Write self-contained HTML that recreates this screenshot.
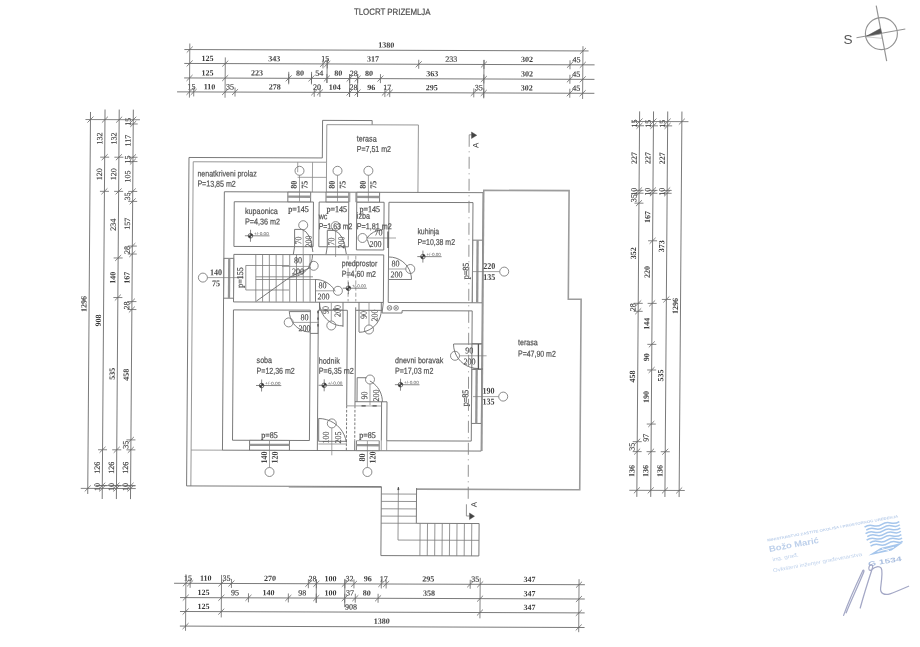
<!DOCTYPE html>
<html><head><meta charset="utf-8"><title>Tlocrt prizemlja</title>
<style>
html,body{margin:0;padding:0;background:#fff;}
body{width:920px;height:647px;overflow:hidden;position:relative;}
svg{display:block;position:absolute;left:0;top:0;filter:blur(0.62px);}
.l{stroke:#6b6b6b;stroke-width:0.9;fill:none;}
.lt{stroke:#8a8a8a;stroke-width:0.8;fill:none;}
.st{stroke:#7a7a7a;stroke-width:0.8;fill:none;}
.w{stroke:#8c8c8c;stroke-width:0.9;fill:none;}
.wb{stroke:#959595;stroke-width:2.3;fill:none;}
.bi{stroke:#8c8c8c;stroke-width:0.9;fill:none;}
.rp{font-family:"Liberation Serif",serif;font-size:8.9px;fill:#4c4c4c;stroke:#4c4c4c;stroke-width:0.25px;}
.rb{font-family:"Liberation Serif",serif;font-size:8.9px;font-weight:bold;fill:#444;}
.tr{stroke:#9c9c9c;stroke-width:1.6;fill:none;}
.tr2{stroke:#979797;stroke-width:1.5;fill:none;}
.c{stroke:#6e6e6e;stroke-width:0.8;fill:none;}
.ld{stroke:#7c7c7c;stroke-width:0.7;fill:none;}
.d{stroke:#6c6c6c;stroke-width:0.9;fill:none;}
.tk{stroke:#666;stroke-width:0.8;fill:none;}
.tk2{stroke:#555;stroke-width:1.3;fill:none;}
.sec{stroke:#878787;stroke-width:0.9;fill:none;}
.ar{fill:#444;stroke:#444;stroke-width:0.4;}
.lv{stroke:#555;stroke-width:0.7;fill:none;}
.lvc{stroke:#444;stroke-width:0.7;fill:none;}
.lvf{fill:#333;stroke:none;}
.lvt{font-family:"Liberation Sans",sans-serif;font-size:4.2px;fill:#555;}
.dt{font-family:"Liberation Serif",serif;font-weight:bold;font-size:8px;fill:#3a3a3a;text-anchor:middle;}
.dl{font-family:"Liberation Serif",serif;font-weight:normal;font-size:8px;fill:#454545;stroke:#454545;stroke-width:0.18px;text-anchor:middle;}
.rn{font-family:"Liberation Serif",serif;font-size:8.9px;fill:#4e4e4e;stroke:#4e4e4e;stroke-width:0.15px;}
.rt{font-family:"Liberation Sans",sans-serif;font-size:8.6px;fill:#545454;stroke:#545454;stroke-width:0.22px;}
.ti{font-family:"Liberation Sans",sans-serif;font-size:9px;fill:#4c4c4c;stroke:#4c4c4c;stroke-width:0.2px;}
.sa{font-family:"Liberation Sans",sans-serif;font-size:8px;fill:#444;}
.cp{stroke:#939393;stroke-width:1.15;fill:none;}
.cpf{fill:#555;stroke:#555;stroke-width:0.5;}
.cp2{fill:none;stroke:#aaa;stroke-width:0.6;}
.cs{font-family:"Liberation Sans",sans-serif;font-size:13.6px;fill:#555;}
.stp text{font-family:"Liberation Sans",sans-serif;fill:#bdd0eb;}
.s1{font-size:3.6px;font-weight:bold;}
.s2{font-size:8.4px;font-weight:bold;}
.s3{font-size:5.2px;}
.s4{font-size:6.6px;font-weight:bold;fill:#aabfe0 !important;}
.lg{stroke:#a6c6ec;stroke-width:1.5;fill:none;}
.lgf{fill:#a6c6ec;stroke:none;}
.lgw{stroke:#fff;stroke-width:0.9;fill:none;}
.sg{stroke:#a4a8c6;stroke-width:1.25;fill:none;stroke-linecap:round;}
</style></head>
<body>
<svg width="920" height="647" viewBox="0 0 920 647">
<g transform="matrix(1 0.0035 -0.0073 1 2.34 -1.35)">
<text class="ti" x="390" y="14.9" text-anchor="middle" textLength="76.6" lengthAdjust="spacingAndGlyphs">TLOCRT PRIZEMLJA</text>
<line class="d" x1="182.4" y1="50.25" x2="586.6" y2="50.25"/>
<line class="tk" x1="184.8" y1="53.25" x2="190.8" y2="47.25"/>
<line class="tk" x1="577.96" y1="53.25" x2="583.96" y2="47.25"/>
<text class="dt" x="384.38" y="47.65">1380</text>
<line class="d" x1="182.4" y1="64.15" x2="592.7" y2="64.15"/>
<line class="tk" x1="184.8" y1="67.15" x2="190.8" y2="61.15"/>
<line class="tk" x1="220.41" y1="67.15" x2="226.41" y2="61.15"/>
<line class="tk" x1="321.13" y1="59.65" x2="321.13" y2="68.65"/>
<line class="tk" x1="318.13" y1="67.15" x2="324.13" y2="61.15"/>
<line class="tk" x1="325.41" y1="59.65" x2="325.41" y2="68.65"/>
<line class="tk" x1="322.41" y1="67.15" x2="328.41" y2="61.15"/>
<line class="tk" x1="416.86" y1="59.65" x2="416.86" y2="68.65"/>
<line class="tk" x1="413.86" y1="67.15" x2="419.86" y2="61.15"/>
<line class="tk" x1="482.1" y1="59.65" x2="482.1" y2="68.65"/>
<line class="tk" x1="479.1" y1="67.15" x2="485.1" y2="61.15"/>
<line class="tk" x1="568.14" y1="59.65" x2="568.14" y2="68.65"/>
<line class="tk" x1="565.14" y1="67.15" x2="571.14" y2="61.15"/>
<line class="tk" x1="577.96" y1="67.15" x2="583.96" y2="61.15"/>
<text class="dt" x="205.61" y="61.55">125</text>
<text class="dt" x="272.27" y="61.55">343</text>
<text class="dl" x="323.27" y="61.55">15</text>
<text class="dt" x="371.13" y="61.55">317</text>
<text class="dl" x="449.48" y="61.55">233</text>
<text class="dt" x="525.12" y="61.55">302</text>
<text class="dl" x="574.55" y="61.55">45</text>
<line class="d" x1="182.4" y1="78.65" x2="592.7" y2="78.65"/>
<line class="tk" x1="184.8" y1="81.65" x2="190.8" y2="75.65"/>
<line class="tk" x1="220.41" y1="81.65" x2="226.41" y2="75.65"/>
<line class="tk" x1="286.95" y1="74.15" x2="286.95" y2="83.15"/>
<line class="tk" x1="283.95" y1="81.65" x2="289.95" y2="75.65"/>
<line class="tk" x1="309.74" y1="74.15" x2="309.74" y2="83.15"/>
<line class="tk" x1="306.74" y1="81.65" x2="312.74" y2="75.65"/>
<line class="tk" x1="325.12" y1="74.15" x2="325.12" y2="83.15"/>
<line class="tk" x1="322.12" y1="81.65" x2="328.12" y2="75.65"/>
<line class="tk" x1="347.91" y1="74.15" x2="347.91" y2="83.15"/>
<line class="tk" x1="344.91" y1="81.65" x2="350.91" y2="75.65"/>
<line class="tk" x1="355.89" y1="74.15" x2="355.89" y2="83.15"/>
<line class="tk" x1="352.89" y1="81.65" x2="358.89" y2="75.65"/>
<line class="tk" x1="378.68" y1="74.15" x2="378.68" y2="83.15"/>
<line class="tk" x1="375.68" y1="81.65" x2="381.68" y2="75.65"/>
<line class="tk" x1="482.1" y1="74.15" x2="482.1" y2="83.15"/>
<line class="tk" x1="479.1" y1="81.65" x2="485.1" y2="75.65"/>
<line class="tk" x1="568.14" y1="74.15" x2="568.14" y2="83.15"/>
<line class="tk" x1="565.14" y1="81.65" x2="571.14" y2="75.65"/>
<line class="tk" x1="577.96" y1="81.65" x2="583.96" y2="75.65"/>
<text class="dt" x="205.61" y="76.05">125</text>
<text class="dt" x="255.18" y="76.05">223</text>
<text class="dt" x="298.34" y="76.05">80</text>
<text class="dl" x="317.43" y="76.05">54</text>
<text class="dt" x="336.52" y="76.05">80</text>
<text class="dl" x="351.9" y="76.05">28</text>
<text class="dt" x="367.29" y="76.05">80</text>
<text class="dt" x="430.39" y="76.05">363</text>
<text class="dt" x="525.12" y="76.05">302</text>
<text class="dl" x="574.55" y="76.05">45</text>
<line class="d" x1="175.4" y1="92.6" x2="592.7" y2="92.6"/>
<line class="tk" x1="184.8" y1="95.6" x2="190.8" y2="89.6"/>
<line class="tk" x1="192.07" y1="88.1" x2="192.07" y2="97.1"/>
<line class="tk" x1="189.07" y1="95.6" x2="195.07" y2="89.6"/>
<line class="tk" x1="220.41" y1="95.6" x2="226.41" y2="89.6"/>
<line class="tk" x1="233.38" y1="88.1" x2="233.38" y2="97.1"/>
<line class="tk" x1="230.38" y1="95.6" x2="236.38" y2="89.6"/>
<line class="tk" x1="312.59" y1="88.1" x2="312.59" y2="97.1"/>
<line class="tk" x1="309.59" y1="95.6" x2="315.59" y2="89.6"/>
<line class="tk" x1="318.28" y1="88.1" x2="318.28" y2="97.1"/>
<line class="tk" x1="315.28" y1="95.6" x2="321.28" y2="89.6"/>
<line class="tk" x1="347.91" y1="88.1" x2="347.91" y2="97.1"/>
<line class="tk" x1="344.91" y1="95.6" x2="350.91" y2="89.6"/>
<line class="tk" x1="355.89" y1="88.1" x2="355.89" y2="97.1"/>
<line class="tk" x1="352.89" y1="95.6" x2="358.89" y2="89.6"/>
<line class="tk" x1="383.24" y1="88.1" x2="383.24" y2="97.1"/>
<line class="tk" x1="380.24" y1="95.6" x2="386.24" y2="89.6"/>
<line class="tk" x1="388.08" y1="88.1" x2="388.08" y2="97.1"/>
<line class="tk" x1="385.08" y1="95.6" x2="391.08" y2="89.6"/>
<line class="tk" x1="472.13" y1="88.1" x2="472.13" y2="97.1"/>
<line class="tk" x1="469.13" y1="95.6" x2="475.13" y2="89.6"/>
<line class="tk" x1="482.1" y1="88.1" x2="482.1" y2="97.1"/>
<line class="tk" x1="479.1" y1="95.6" x2="485.1" y2="89.6"/>
<line class="tk" x1="568.14" y1="88.1" x2="568.14" y2="97.1"/>
<line class="tk" x1="565.14" y1="95.6" x2="571.14" y2="89.6"/>
<line class="tk" x1="577.96" y1="95.6" x2="583.96" y2="89.6"/>
<text class="dl" x="189.94" y="90">15</text>
<text class="dt" x="207.74" y="90">110</text>
<text class="dl" x="228.4" y="90">35</text>
<text class="dt" x="272.99" y="90">278</text>
<text class="dl" x="315.44" y="90">20</text>
<text class="dt" x="333.1" y="90">104</text>
<text class="dl" x="351.9" y="90">28</text>
<text class="dt" x="369.57" y="90">96</text>
<text class="dl" x="385.66" y="90">17</text>
<text class="dt" x="430.11" y="90">295</text>
<text class="dl" x="477.12" y="90">35</text>
<text class="dt" x="525.12" y="90">302</text>
<text class="dl" x="574.55" y="90">45</text>
<line class="tk" x1="187.8" y1="44.2" x2="187.8" y2="98.3"/>
<line class="tk" x1="223.41" y1="58" x2="223.41" y2="98.3"/>
<line class="tk" x1="580.96" y1="45.5" x2="580.96" y2="98.3"/>
<line class="tk" x1="482.1" y1="59.5" x2="482.1" y2="98"/>
<line class="tk" x1="325.26" y1="59.65" x2="325.26" y2="83.15"/>
<line class="tk" x1="347.91" y1="74.15" x2="347.91" y2="97.1"/>
<line class="tk" x1="355.89" y1="74.15" x2="355.89" y2="97.1"/>
<line class="tk" x1="286.95" y1="72.15" x2="286.95" y2="84.65"/>
<line class="tk" x1="309.74" y1="72.15" x2="309.74" y2="84.65"/>
<line class="d" x1="176" y1="584" x2="586.8" y2="584"/>
<line class="tk" x1="184.8" y1="587" x2="190.8" y2="581"/>
<line class="tk" x1="192.07" y1="579.5" x2="192.07" y2="588.5"/>
<line class="tk" x1="189.07" y1="587" x2="195.07" y2="581"/>
<line class="tk" x1="220.41" y1="587" x2="226.41" y2="581"/>
<line class="tk" x1="233.38" y1="579.5" x2="233.38" y2="588.5"/>
<line class="tk" x1="230.38" y1="587" x2="236.38" y2="581"/>
<line class="tk" x1="310.31" y1="579.5" x2="310.31" y2="588.5"/>
<line class="tk" x1="307.31" y1="587" x2="313.31" y2="581"/>
<line class="tk" x1="318.28" y1="579.5" x2="318.28" y2="588.5"/>
<line class="tk" x1="315.28" y1="587" x2="321.28" y2="581"/>
<line class="tk" x1="346.77" y1="579.5" x2="346.77" y2="588.5"/>
<line class="tk" x1="343.77" y1="587" x2="349.77" y2="581"/>
<line class="tk" x1="355.89" y1="579.5" x2="355.89" y2="588.5"/>
<line class="tk" x1="352.89" y1="587" x2="358.89" y2="581"/>
<line class="tk" x1="383.24" y1="579.5" x2="383.24" y2="588.5"/>
<line class="tk" x1="380.24" y1="587" x2="386.24" y2="581"/>
<line class="tk" x1="388.08" y1="579.5" x2="388.08" y2="588.5"/>
<line class="tk" x1="385.08" y1="587" x2="391.08" y2="581"/>
<line class="tk" x1="472.13" y1="579.5" x2="472.13" y2="588.5"/>
<line class="tk" x1="469.13" y1="587" x2="475.13" y2="581"/>
<line class="tk" x1="479.1" y1="587" x2="485.1" y2="581"/>
<line class="tk" x1="577.96" y1="587" x2="583.96" y2="581"/>
<text class="dl" x="189.94" y="581.4">15</text>
<text class="dt" x="207.74" y="581.4">110</text>
<text class="dl" x="228.4" y="581.4">35</text>
<text class="dt" x="271.85" y="581.4">270</text>
<text class="dl" x="314.3" y="581.4">28</text>
<text class="dt" x="332.53" y="581.4">100</text>
<text class="dl" x="351.33" y="581.4">32</text>
<text class="dt" x="369.57" y="581.4">96</text>
<text class="dl" x="385.66" y="581.4">17</text>
<text class="dt" x="430.11" y="581.4">295</text>
<text class="dl" x="477.12" y="581.4">35</text>
<text class="dt" x="531.53" y="581.4">347</text>
<line class="d" x1="182.1" y1="598.3" x2="586.8" y2="598.3"/>
<line class="tk" x1="184.8" y1="601.3" x2="190.8" y2="595.3"/>
<line class="tk" x1="220.41" y1="601.3" x2="226.41" y2="595.3"/>
<line class="tk" x1="250.48" y1="593.8" x2="250.48" y2="602.8"/>
<line class="tk" x1="247.48" y1="601.3" x2="253.48" y2="595.3"/>
<line class="tk" x1="290.36" y1="593.8" x2="290.36" y2="602.8"/>
<line class="tk" x1="287.36" y1="601.3" x2="293.36" y2="595.3"/>
<line class="tk" x1="318.28" y1="593.8" x2="318.28" y2="602.8"/>
<line class="tk" x1="315.28" y1="601.3" x2="321.28" y2="595.3"/>
<line class="tk" x1="346.77" y1="593.8" x2="346.77" y2="602.8"/>
<line class="tk" x1="343.77" y1="601.3" x2="349.77" y2="595.3"/>
<line class="tk" x1="357.32" y1="593.8" x2="357.32" y2="602.8"/>
<line class="tk" x1="354.32" y1="601.3" x2="360.32" y2="595.3"/>
<line class="tk" x1="380.11" y1="593.8" x2="380.11" y2="602.8"/>
<line class="tk" x1="377.11" y1="601.3" x2="383.11" y2="595.3"/>
<line class="tk" x1="479.1" y1="601.3" x2="485.1" y2="595.3"/>
<line class="tk" x1="577.96" y1="601.3" x2="583.96" y2="595.3"/>
<text class="dt" x="205.61" y="595.7">125</text>
<text class="dl" x="236.95" y="595.7">95</text>
<text class="dt" x="270.42" y="595.7">140</text>
<text class="dl" x="304.32" y="595.7">98</text>
<text class="dt" x="332.53" y="595.7">100</text>
<text class="dl" x="352.04" y="595.7">37</text>
<text class="dt" x="368.71" y="595.7">80</text>
<text class="dt" x="431.1" y="595.7">358</text>
<text class="dt" x="531.53" y="595.7">347</text>
<line class="d" x1="182.1" y1="612.2" x2="586.8" y2="612.2"/>
<line class="tk" x1="184.8" y1="615.2" x2="190.8" y2="609.2"/>
<line class="tk" x1="220.41" y1="615.2" x2="226.41" y2="609.2"/>
<line class="tk" x1="479.1" y1="615.2" x2="485.1" y2="609.2"/>
<line class="tk" x1="577.96" y1="615.2" x2="583.96" y2="609.2"/>
<text class="dt" x="205.61" y="609.6">125</text>
<text class="dt" x="531.53" y="609.6">347</text>
<text class="dl" x="353.1" y="609.6">908</text>
<line class="d" x1="182.1" y1="626.8" x2="586.8" y2="626.8"/>
<line class="tk" x1="184.8" y1="629.8" x2="190.8" y2="623.8"/>
<line class="tk" x1="577.96" y1="629.8" x2="583.96" y2="623.8"/>
<text class="dt" x="384" y="623.8">1380</text>
<line class="tk" x1="346.77" y1="579" x2="346.77" y2="607.3"/>
<line class="tk" x1="318.28" y1="580" x2="318.28" y2="603.3"/>
<line class="tk" x1="187.8" y1="575" x2="187.8" y2="631.5"/>
<line class="tk" x1="223.41" y1="575.5" x2="223.41" y2="618"/>
<line class="tk" x1="482.1" y1="577.5" x2="482.1" y2="618"/>
<line class="tk" x1="580.96" y1="578.5" x2="580.96" y2="631.5"/>
<line class="d" x1="89" y1="113" x2="89" y2="495"/>
<line class="tk" x1="86" y1="123.6" x2="92" y2="117.6"/>
<line class="tk" x1="86" y1="492.44" x2="92" y2="486.44"/>
<text class="dt" transform="translate(86.4 305.02) rotate(-90)">1296</text>
<line class="d" x1="103.5" y1="110.5" x2="103.5" y2="500"/>
<line class="tk" x1="100.5" y1="123.6" x2="106.5" y2="117.6"/>
<line class="tk" x1="99" y1="158.17" x2="108" y2="158.17"/>
<line class="tk" x1="100.5" y1="161.17" x2="106.5" y2="155.17"/>
<line class="tk" x1="99" y1="192.32" x2="108" y2="192.32"/>
<line class="tk" x1="100.5" y1="195.32" x2="106.5" y2="189.32"/>
<line class="tk" x1="99" y1="450.74" x2="108" y2="450.74"/>
<line class="tk" x1="100.5" y1="453.74" x2="106.5" y2="447.74"/>
<line class="tk" x1="99" y1="486.6" x2="108" y2="486.6"/>
<line class="tk" x1="100.5" y1="489.6" x2="106.5" y2="483.6"/>
<line class="tk" x1="100.5" y1="492.44" x2="106.5" y2="486.44"/>
<text class="dl" transform="translate(100.9 139.38) rotate(-90)">132</text>
<text class="dl" transform="translate(100.9 175.24) rotate(-90)">120</text>
<text class="dt" transform="translate(100.9 321.53) rotate(-90)">908</text>
<text class="dl" transform="translate(100.9 468.67) rotate(-90)">126</text>
<text class="dl" transform="translate(100.9 488.02) rotate(-90)">10</text>
<line class="d" x1="117.7" y1="110.5" x2="117.7" y2="500"/>
<line class="tk" x1="114.7" y1="123.6" x2="120.7" y2="117.6"/>
<line class="tk" x1="113.2" y1="158.17" x2="122.2" y2="158.17"/>
<line class="tk" x1="114.7" y1="161.17" x2="120.7" y2="155.17"/>
<line class="tk" x1="113.2" y1="192.32" x2="122.2" y2="192.32"/>
<line class="tk" x1="114.7" y1="195.32" x2="120.7" y2="189.32"/>
<line class="tk" x1="113.2" y1="258.92" x2="122.2" y2="258.92"/>
<line class="tk" x1="114.7" y1="261.92" x2="120.7" y2="255.92"/>
<line class="tk" x1="113.2" y1="298.48" x2="122.2" y2="298.48"/>
<line class="tk" x1="114.7" y1="301.48" x2="120.7" y2="295.48"/>
<line class="tk" x1="113.2" y1="450.74" x2="122.2" y2="450.74"/>
<line class="tk" x1="114.7" y1="453.74" x2="120.7" y2="447.74"/>
<line class="tk" x1="113.2" y1="486.6" x2="122.2" y2="486.6"/>
<line class="tk" x1="114.7" y1="489.6" x2="120.7" y2="483.6"/>
<line class="tk" x1="114.7" y1="492.44" x2="120.7" y2="486.44"/>
<text class="dl" transform="translate(115.1 139.38) rotate(-90)">132</text>
<text class="dl" transform="translate(115.1 175.24) rotate(-90)">120</text>
<text class="dl" transform="translate(115.1 225.62) rotate(-90)">234</text>
<text class="dt" transform="translate(115.1 278.7) rotate(-90)">140</text>
<text class="dt" transform="translate(115.1 374.61) rotate(-90)">535</text>
<text class="dl" transform="translate(115.1 468.67) rotate(-90)">126</text>
<text class="dl" transform="translate(115.1 488.02) rotate(-90)">10</text>
<line class="d" x1="131.8" y1="110.5" x2="131.8" y2="500"/>
<line class="tk" x1="128.8" y1="123.6" x2="134.8" y2="117.6"/>
<line class="tk" x1="127.3" y1="124.87" x2="136.3" y2="124.87"/>
<line class="tk" x1="128.8" y1="127.87" x2="134.8" y2="121.87"/>
<line class="tk" x1="127.3" y1="158.17" x2="136.3" y2="158.17"/>
<line class="tk" x1="128.8" y1="161.17" x2="134.8" y2="155.17"/>
<line class="tk" x1="127.3" y1="162.44" x2="136.3" y2="162.44"/>
<line class="tk" x1="128.8" y1="165.44" x2="134.8" y2="159.44"/>
<line class="tk" x1="127.3" y1="192.32" x2="136.3" y2="192.32"/>
<line class="tk" x1="128.8" y1="195.32" x2="134.8" y2="189.32"/>
<line class="tk" x1="127.3" y1="202.28" x2="136.3" y2="202.28"/>
<line class="tk" x1="128.8" y1="205.28" x2="134.8" y2="199.28"/>
<line class="tk" x1="127.3" y1="246.96" x2="136.3" y2="246.96"/>
<line class="tk" x1="128.8" y1="249.96" x2="134.8" y2="243.96"/>
<line class="tk" x1="127.3" y1="254.93" x2="136.3" y2="254.93"/>
<line class="tk" x1="128.8" y1="257.93" x2="134.8" y2="251.93"/>
<line class="tk" x1="127.3" y1="302.46" x2="136.3" y2="302.46"/>
<line class="tk" x1="128.8" y1="305.46" x2="134.8" y2="299.46"/>
<line class="tk" x1="127.3" y1="310.43" x2="136.3" y2="310.43"/>
<line class="tk" x1="128.8" y1="313.43" x2="134.8" y2="307.43"/>
<line class="tk" x1="127.3" y1="440.77" x2="136.3" y2="440.77"/>
<line class="tk" x1="128.8" y1="443.77" x2="134.8" y2="437.77"/>
<line class="tk" x1="127.3" y1="450.74" x2="136.3" y2="450.74"/>
<line class="tk" x1="128.8" y1="453.74" x2="134.8" y2="447.74"/>
<line class="tk" x1="127.3" y1="486.6" x2="136.3" y2="486.6"/>
<line class="tk" x1="128.8" y1="489.6" x2="134.8" y2="483.6"/>
<line class="tk" x1="128.8" y1="492.44" x2="134.8" y2="486.44"/>
<text class="dl" transform="translate(129.2 122.73) rotate(-90)">15</text>
<text class="dl" transform="translate(129.2 141.52) rotate(-90)">117</text>
<text class="dl" transform="translate(129.2 160.3) rotate(-90)">15</text>
<text class="dl" transform="translate(129.2 177.38) rotate(-90)">105</text>
<text class="dl" transform="translate(129.2 197.3) rotate(-90)">35</text>
<text class="dl" transform="translate(129.2 224.62) rotate(-90)">157</text>
<text class="dl" transform="translate(129.2 250.95) rotate(-90)">28</text>
<text class="dt" transform="translate(129.2 278.7) rotate(-90)">167</text>
<text class="dl" transform="translate(129.2 306.44) rotate(-90)">28</text>
<text class="dt" transform="translate(129.2 375.6) rotate(-90)">458</text>
<text class="dl" transform="translate(129.2 445.76) rotate(-90)">35</text>
<text class="dl" transform="translate(129.2 468.67) rotate(-90)">126</text>
<text class="dl" transform="translate(129.2 488.02) rotate(-90)">10</text>
<line class="tk" x1="84" y1="120.6" x2="138.5" y2="120.6"/>
<line class="tk" x1="82" y1="489.44" x2="137" y2="489.44"/>
<line class="tk" x1="97" y1="486.6" x2="137" y2="486.6"/>
<line class="d" x1="638.1" y1="110.5" x2="638.1" y2="496"/>
<line class="tk" x1="635.1" y1="123.6" x2="641.1" y2="117.6"/>
<line class="tk" x1="633.6" y1="124.87" x2="642.6" y2="124.87"/>
<line class="tk" x1="635.1" y1="127.87" x2="641.1" y2="121.87"/>
<line class="tk" x1="633.6" y1="189.47" x2="642.6" y2="189.47"/>
<line class="tk" x1="635.1" y1="192.47" x2="641.1" y2="186.47"/>
<line class="tk" x1="633.6" y1="192.32" x2="642.6" y2="192.32"/>
<line class="tk" x1="635.1" y1="195.32" x2="641.1" y2="189.32"/>
<line class="tk" x1="633.6" y1="202.28" x2="642.6" y2="202.28"/>
<line class="tk" x1="635.1" y1="205.28" x2="641.1" y2="199.28"/>
<line class="tk" x1="633.6" y1="302.46" x2="642.6" y2="302.46"/>
<line class="tk" x1="635.1" y1="305.46" x2="641.1" y2="299.46"/>
<line class="tk" x1="633.6" y1="310.43" x2="642.6" y2="310.43"/>
<line class="tk" x1="635.1" y1="313.43" x2="641.1" y2="307.43"/>
<line class="tk" x1="633.6" y1="440.77" x2="642.6" y2="440.77"/>
<line class="tk" x1="635.1" y1="443.77" x2="641.1" y2="437.77"/>
<line class="tk" x1="633.6" y1="450.74" x2="642.6" y2="450.74"/>
<line class="tk" x1="635.1" y1="453.74" x2="641.1" y2="447.74"/>
<line class="tk" x1="635.1" y1="492.44" x2="641.1" y2="486.44"/>
<text class="dl" transform="translate(635.5 122.73) rotate(-90)">15</text>
<text class="dt" transform="translate(635.5 157.17) rotate(-90)">227</text>
<text class="dl" transform="translate(635.5 190.9) rotate(-90)">10</text>
<text class="dl" transform="translate(635.5 197.3) rotate(-90)">35</text>
<text class="dt" transform="translate(635.5 252.37) rotate(-90)">352</text>
<text class="dl" transform="translate(635.5 306.44) rotate(-90)">28</text>
<text class="dt" transform="translate(635.5 375.6) rotate(-90)">458</text>
<text class="dl" transform="translate(635.5 445.76) rotate(-90)">35</text>
<text class="dt" transform="translate(635.5 470.09) rotate(-90)">136</text>
<line class="d" x1="652" y1="110.5" x2="652" y2="496"/>
<line class="tk" x1="649" y1="123.6" x2="655" y2="117.6"/>
<line class="tk" x1="647.5" y1="124.87" x2="656.5" y2="124.87"/>
<line class="tk" x1="649" y1="127.87" x2="655" y2="121.87"/>
<line class="tk" x1="647.5" y1="189.47" x2="656.5" y2="189.47"/>
<line class="tk" x1="649" y1="192.47" x2="655" y2="186.47"/>
<line class="tk" x1="647.5" y1="192.32" x2="656.5" y2="192.32"/>
<line class="tk" x1="649" y1="195.32" x2="655" y2="189.32"/>
<line class="tk" x1="647.5" y1="239.85" x2="656.5" y2="239.85"/>
<line class="tk" x1="649" y1="242.85" x2="655" y2="236.85"/>
<line class="tk" x1="647.5" y1="302.46" x2="656.5" y2="302.46"/>
<line class="tk" x1="649" y1="305.46" x2="655" y2="299.46"/>
<line class="tk" x1="647.5" y1="343.44" x2="656.5" y2="343.44"/>
<line class="tk" x1="649" y1="346.44" x2="655" y2="340.44"/>
<line class="tk" x1="647.5" y1="369.06" x2="656.5" y2="369.06"/>
<line class="tk" x1="649" y1="372.06" x2="655" y2="366.06"/>
<line class="tk" x1="647.5" y1="423.13" x2="656.5" y2="423.13"/>
<line class="tk" x1="649" y1="426.13" x2="655" y2="420.13"/>
<line class="tk" x1="647.5" y1="450.74" x2="656.5" y2="450.74"/>
<line class="tk" x1="649" y1="453.74" x2="655" y2="447.74"/>
<line class="tk" x1="649" y1="492.44" x2="655" y2="486.44"/>
<text class="dl" transform="translate(649.4 122.73) rotate(-90)">15</text>
<text class="dt" transform="translate(649.4 157.17) rotate(-90)">227</text>
<text class="dl" transform="translate(649.4 190.9) rotate(-90)">10</text>
<text class="dt" transform="translate(649.4 216.08) rotate(-90)">167</text>
<text class="dt" transform="translate(649.4 271.15) rotate(-90)">220</text>
<text class="dt" transform="translate(649.4 322.95) rotate(-90)">144</text>
<text class="dt" transform="translate(649.4 356.25) rotate(-90)">90</text>
<text class="dt" transform="translate(649.4 396.09) rotate(-90)">190</text>
<text class="dl" transform="translate(649.4 436.93) rotate(-90)">97</text>
<text class="dt" transform="translate(649.4 470.09) rotate(-90)">136</text>
<line class="d" x1="666.2" y1="110.5" x2="666.2" y2="496"/>
<line class="tk" x1="663.2" y1="123.6" x2="669.2" y2="117.6"/>
<line class="tk" x1="661.7" y1="124.87" x2="670.7" y2="124.87"/>
<line class="tk" x1="663.2" y1="127.87" x2="669.2" y2="121.87"/>
<line class="tk" x1="661.7" y1="189.47" x2="670.7" y2="189.47"/>
<line class="tk" x1="663.2" y1="192.47" x2="669.2" y2="186.47"/>
<line class="tk" x1="661.7" y1="192.32" x2="670.7" y2="192.32"/>
<line class="tk" x1="663.2" y1="195.32" x2="669.2" y2="189.32"/>
<line class="tk" x1="661.7" y1="298.48" x2="670.7" y2="298.48"/>
<line class="tk" x1="663.2" y1="301.48" x2="669.2" y2="295.48"/>
<line class="tk" x1="661.7" y1="450.74" x2="670.7" y2="450.74"/>
<line class="tk" x1="663.2" y1="453.74" x2="669.2" y2="447.74"/>
<line class="tk" x1="663.2" y1="492.44" x2="669.2" y2="486.44"/>
<text class="dl" transform="translate(663.6 122.73) rotate(-90)">15</text>
<text class="dt" transform="translate(663.6 157.17) rotate(-90)">227</text>
<text class="dl" transform="translate(663.6 190.9) rotate(-90)">10</text>
<text class="dt" transform="translate(663.6 245.4) rotate(-90)">373</text>
<text class="dt" transform="translate(663.6 374.61) rotate(-90)">535</text>
<text class="dt" transform="translate(663.6 470.09) rotate(-90)">136</text>
<line class="d" x1="680.4" y1="110.5" x2="680.4" y2="496"/>
<line class="tk" x1="677.4" y1="123.6" x2="683.4" y2="117.6"/>
<line class="tk" x1="677.4" y1="492.44" x2="683.4" y2="486.44"/>
<text class="dt" transform="translate(677.8 305.02) rotate(-90)">1296</text>
<line class="tk" x1="630.5" y1="120.6" x2="687" y2="120.6"/>
<line class="tk" x1="630.5" y1="489.44" x2="686" y2="489.44"/>
<path class="l" d="M187.8 486.6 L187.8 158.17 L321.13 158.17 L321.13 120.6 L370.7 120.6 L370.7 124.87"/>
<path class="bi" d="M192.07 486.6 L192.07 162.44 L325.41 162.44 L325.41 124.87 L417 124.87 L417 192.32"/>
<line class="l" x1="187.8" y1="486.6" x2="382.5" y2="486.6"/>
<line class="lt" x1="290" y1="487.5" x2="382.5" y2="487.5"/>
<line class="lt" x1="192.07" y1="450.74" x2="223.41" y2="450.74"/>
<line class="bi" x1="325.41" y1="162.44" x2="325.41" y2="192.32"/>
<line class="lt" x1="296.6" y1="162.44" x2="296.6" y2="172.5"/>
<line class="lt" x1="311.4" y1="162.44" x2="311.4" y2="192.32"/>
<line class="lt" x1="296.6" y1="177.6" x2="325.41" y2="177.6"/>
<path class="l" d="M223.41 192.32 L482.1 192.32 L482.1 450.74 L223.41 450.74 Z"/>
<path class="l" d="M233.38 202.28 L312.59 202.28 L312.59 246.96 L233.38 246.96 Z"/>
<path class="l" d="M318.28 202.28 L347.91 202.28 L347.91 246.96 L318.28 246.96 Z"/>
<path class="l" d="M355.89 202.28 L383.24 202.28 L383.24 250 L355.89 250 Z"/>
<line class="lt" x1="348.91" y1="192.32" x2="348.91" y2="202.28"/>
<line class="lt" x1="354.89" y1="192.32" x2="354.89" y2="202.28"/>
<path class="l" d="M388.08 202.28 L472.13 202.28 L472.13 302.46 L388.08 302.46 Z"/>
<path class="l" d="M233.38 254.93 L383.24 254.93 L383.24 302.46 L233.38 302.46 Z"/>
<path class="l" d="M233.38 310.43 L310.31 310.43 L310.31 440.77 L233.38 440.77 Z"/>
<path class="l" d="M318.28 450.74 L318.28 310.43 L347.3 310.43 L347.3 405.8"/>
<line class="l" x1="355.6" y1="307.43" x2="355.6" y2="405.8"/>
<line class="l" x1="347.3" y1="405.8" x2="347.3" y2="450.74" stroke-dasharray="2.6 1.6"/>
<line class="l" x1="355.6" y1="405.8" x2="355.6" y2="440.77" stroke-dasharray="2.6 1.6"/>
<line class="l" x1="355.6" y1="440.77" x2="355.6" y2="450.74"/>
<path class="l" d="M355.6 310.43 L381.8 310.43"/>
<path class="l" d="M383.2 302.46 L382 313 L402 313 L402 310.6 L472.13 310.6 L472.13 440.77 L387.6 440.77 L387.6 401.8 L355.6 401.8"/>
<line class="l" x1="382.2" y1="401.8" x2="382.2" y2="440.77"/>
<circle class="c" cx="389.4" cy="307.9" r="2.3"/>
<line class="lt" x1="387.8" y1="306.3" x2="391" y2="309.5"/>
<line class="lt" x1="387.8" y1="309.5" x2="391" y2="306.3"/>
<circle class="c" cx="396" cy="307.9" r="2.3"/>
<line class="lt" x1="394.4" y1="306.3" x2="397.6" y2="309.5"/>
<line class="lt" x1="394.4" y1="309.5" x2="397.6" y2="306.3"/>
<line class="lt" x1="347.3" y1="406" x2="382.2" y2="406"/>
<line class="l" x1="357.6" y1="377.8" x2="367" y2="377.8"/>
<line class="l" x1="357.6" y1="377.8" x2="357.6" y2="401.8"/>
<line class="lt" x1="382.2" y1="440.77" x2="382.2" y2="450.74"/>
<line class="lt" x1="387.6" y1="440.77" x2="387.6" y2="450.74"/>
<line class="l" x1="286.95" y1="192.32" x2="286.95" y2="202.28"/>
<line class="l" x1="309.74" y1="192.32" x2="309.74" y2="202.28"/>
<line class="lt" x1="286.95" y1="202.28" x2="309.74" y2="202.28"/>
<line class="lt" x1="286.95" y1="192.32" x2="309.74" y2="192.32"/>
<line class="wb" x1="286.95" y1="197.02" x2="309.74" y2="197.02"/>
<line class="l" x1="325.12" y1="192.32" x2="325.12" y2="202.28"/>
<line class="l" x1="347.91" y1="192.32" x2="347.91" y2="202.28"/>
<line class="lt" x1="325.12" y1="202.28" x2="347.91" y2="202.28"/>
<line class="lt" x1="325.12" y1="192.32" x2="347.91" y2="192.32"/>
<line class="wb" x1="325.12" y1="197.02" x2="347.91" y2="197.02"/>
<line class="l" x1="355.89" y1="192.32" x2="355.89" y2="202.28"/>
<line class="l" x1="378.68" y1="192.32" x2="378.68" y2="202.28"/>
<line class="lt" x1="355.89" y1="202.28" x2="378.68" y2="202.28"/>
<line class="lt" x1="355.89" y1="192.32" x2="378.68" y2="192.32"/>
<line class="wb" x1="355.89" y1="197.02" x2="378.68" y2="197.02"/>
<line class="l" x1="250.48" y1="440.77" x2="250.48" y2="450.74"/>
<line class="l" x1="290.36" y1="440.77" x2="290.36" y2="450.74"/>
<line class="lt" x1="250.48" y1="450.74" x2="290.36" y2="450.74"/>
<line class="lt" x1="250.48" y1="440.77" x2="290.36" y2="440.77"/>
<line class="wb" x1="250.48" y1="445.27" x2="290.36" y2="445.27"/>
<line class="l" x1="357.32" y1="440.77" x2="357.32" y2="450.74"/>
<line class="l" x1="380.11" y1="440.77" x2="380.11" y2="450.74"/>
<line class="lt" x1="357.32" y1="450.74" x2="380.11" y2="450.74"/>
<line class="lt" x1="357.32" y1="440.77" x2="380.11" y2="440.77"/>
<line class="wb" x1="357.32" y1="445.27" x2="380.11" y2="445.27"/>
<line class="l" x1="223.41" y1="258.92" x2="233.38" y2="258.92"/>
<line class="l" x1="223.41" y1="298.76" x2="233.38" y2="298.76"/>
<line class="lt" x1="223.41" y1="258.92" x2="223.41" y2="298.76"/>
<line class="lt" x1="233.38" y1="258.92" x2="233.38" y2="298.76"/>
<line class="wb" x1="228.81" y1="258.92" x2="228.81" y2="298.76"/>
<line class="l" x1="472.13" y1="239.85" x2="482.1" y2="239.85"/>
<line class="l" x1="472.13" y1="302.46" x2="482.1" y2="302.46"/>
<line class="lt" x1="472.13" y1="239.85" x2="472.13" y2="302.46"/>
<line class="lt" x1="482.1" y1="239.85" x2="482.1" y2="302.46"/>
<line class="wb" x1="477.03" y1="239.85" x2="477.03" y2="302.46"/>
<line class="l" x1="472.13" y1="369.06" x2="482.1" y2="369.06"/>
<line class="l" x1="472.13" y1="423.13" x2="482.1" y2="423.13"/>
<line class="lt" x1="472.13" y1="369.06" x2="472.13" y2="423.13"/>
<line class="lt" x1="482.1" y1="369.06" x2="482.1" y2="423.13"/>
<line class="wb" x1="477.03" y1="369.06" x2="477.03" y2="423.13"/>
<line class="l" x1="472.13" y1="343.44" x2="482.1" y2="343.44"/>
<line class="tr2" x1="482.8" y1="190" x2="482.8" y2="450.74"/>
<path class="tr" d="M482.1 190 L568.14 190 L568.14 298.6 L580.96 298.6 L580.96 489 L417.5 489"/>
<path class="l" d="M382.6 486.6 L382.6 555.6 L480.6 555.6 L480.6 523.2 L417.8 523.2 L417.8 488"/>
<line class="st" x1="382.6" y1="494" x2="417.8" y2="494"/>
<line class="st" x1="382.6" y1="501.4" x2="417.8" y2="501.4"/>
<line class="st" x1="382.6" y1="508.8" x2="417.8" y2="508.8"/>
<line class="st" x1="382.6" y1="516.1" x2="417.8" y2="516.1"/>
<line class="st" x1="382.6" y1="523.2" x2="417.8" y2="523.2"/>
<line class="st" x1="421.6" y1="523.2" x2="421.6" y2="555.6"/>
<line class="st" x1="428.98" y1="523.2" x2="428.98" y2="555.6"/>
<line class="st" x1="436.36" y1="523.2" x2="436.36" y2="555.6"/>
<line class="st" x1="443.74" y1="523.2" x2="443.74" y2="555.6"/>
<line class="st" x1="451.12" y1="523.2" x2="451.12" y2="555.6"/>
<line class="st" x1="458.5" y1="523.2" x2="458.5" y2="555.6"/>
<line class="st" x1="465.88" y1="523.2" x2="465.88" y2="555.6"/>
<line class="st" x1="473.26" y1="523.2" x2="473.26" y2="555.6"/>
<path class="st" d="M399.6 487 L399.6 540 L480.6 540"/>
<path class="ar" d="M398.8 489.6 L399.6 487 L400.4 489.6 Z"/>
<line class="st" x1="255.32" y1="255.06" x2="255.67" y2="302.26"/>
<line class="st" x1="262.1" y1="255.03" x2="262.45" y2="302.23"/>
<line class="st" x1="268.88" y1="255.01" x2="269.23" y2="302.21"/>
<line class="st" x1="275.66" y1="254.98" x2="276.01" y2="302.18"/>
<line class="st" x1="282.44" y1="254.96" x2="282.79" y2="302.16"/>
<line class="st" x1="289.22" y1="254.94" x2="289.57" y2="302.14"/>
<line class="st" x1="296" y1="254.91" x2="296.35" y2="302.11"/>
<line class="st" x1="302.78" y1="254.89" x2="303.13" y2="302.09"/>
<line class="st" x1="309.56" y1="254.87" x2="309.91" y2="302.07"/>
<path class="st" d="M288.6 265.84 L245.4 265.99 L245.58 290.49 L288.78 290.34"/>
<line class="st" x1="255.48" y1="277.26" x2="312.68" y2="277.06"/>
<line class="st" x1="255.5" y1="279.96" x2="315.7" y2="279.75"/>
<line class="l" x1="256.16" y1="301.65" x2="290.18" y2="277.13"/>
<line class="l" x1="290.18" y1="277.13" x2="310.12" y2="267.76"/>
<circle class="c" cx="298.41" cy="171.1" r="4.5"/>
<line class="ld" x1="298.44" y1="175.6" x2="298.63" y2="201.8"/>
<text class="rb" transform="translate(292.91 185.02) rotate(-90)" text-anchor="middle" y="2.94" textLength="8.01" lengthAdjust="spacingAndGlyphs">80</text>
<text class="rb" transform="translate(303.51 184.99) rotate(-90)" text-anchor="middle" y="2.94" textLength="8.01" lengthAdjust="spacingAndGlyphs">75</text>
<circle class="c" cx="336.41" cy="170.97" r="4.5"/>
<line class="ld" x1="336.44" y1="175.47" x2="336.63" y2="201.67"/>
<text class="rb" transform="translate(330.91 184.89) rotate(-90)" text-anchor="middle" y="2.94" textLength="8.01" lengthAdjust="spacingAndGlyphs">80</text>
<text class="rb" transform="translate(341.51 184.85) rotate(-90)" text-anchor="middle" y="2.94" textLength="8.01" lengthAdjust="spacingAndGlyphs">75</text>
<circle class="c" cx="367.31" cy="170.86" r="4.5"/>
<line class="ld" x1="367.34" y1="175.36" x2="367.53" y2="201.56"/>
<text class="rb" transform="translate(361.81 184.78) rotate(-90)" text-anchor="middle" y="2.94" textLength="8.01" lengthAdjust="spacingAndGlyphs">80</text>
<text class="rb" transform="translate(372.41 184.74) rotate(-90)" text-anchor="middle" y="2.94" textLength="8.01" lengthAdjust="spacingAndGlyphs">75</text>
<circle class="c" cx="270.61" cy="472.41" r="4.5"/>
<line class="ld" x1="270.38" y1="441.41" x2="270.58" y2="467.91"/>
<text class="rb" transform="translate(265.1 457.83) rotate(-90)" text-anchor="middle" y="2.94" textLength="12.02" lengthAdjust="spacingAndGlyphs">140</text>
<text class="rb" transform="translate(275.7 457.79) rotate(-90)" text-anchor="middle" y="2.94" textLength="12.02" lengthAdjust="spacingAndGlyphs">120</text>
<circle class="c" cx="368.51" cy="472.07" r="4.5"/>
<line class="ld" x1="368.28" y1="441.07" x2="368.48" y2="467.57"/>
<text class="rb" transform="translate(363 457.48) rotate(-90)" text-anchor="middle" y="2.94" textLength="8.01" lengthAdjust="spacingAndGlyphs">80</text>
<text class="rb" transform="translate(373.6 457.45) rotate(-90)" text-anchor="middle" y="2.94" textLength="12.02" lengthAdjust="spacingAndGlyphs">120</text>
<circle class="c" cx="202.59" cy="278.24" r="4.5"/>
<line class="ld" x1="207.09" y1="278.23" x2="243.19" y2="278.1"/>
<text class="rb" x="215.67" y="275.9" text-anchor="middle" textLength="12.02" lengthAdjust="spacingAndGlyphs">140</text>
<text class="rb" x="215.75" y="286.8" text-anchor="middle" textLength="8.01" lengthAdjust="spacingAndGlyphs">75</text>
<text class="rp" transform="translate(239.69 278.01) rotate(-90)" text-anchor="middle" y="2.94" textLength="20.53" lengthAdjust="spacingAndGlyphs">p=155</text>
<circle class="c" cx="503.85" cy="271.19" r="4.5"/>
<line class="ld" x1="472.65" y1="271.3" x2="499.35" y2="271.2"/>
<text class="rb" x="488.83" y="268.64" text-anchor="middle" textLength="12.02" lengthAdjust="spacingAndGlyphs">220</text>
<text class="rb" x="488.91" y="279.64" text-anchor="middle" textLength="12.02" lengthAdjust="spacingAndGlyphs">135</text>
<text class="rp" transform="translate(465.44 270.72) rotate(-90)" text-anchor="middle" y="2.94" textLength="16.52" lengthAdjust="spacingAndGlyphs">p=85</text>
<circle class="c" cx="503.76" cy="396.19" r="4.5"/>
<line class="ld" x1="473.56" y1="396.3" x2="499.26" y2="396.21"/>
<text class="rb" x="489.14" y="393.44" text-anchor="middle" textLength="12.02" lengthAdjust="spacingAndGlyphs">190</text>
<text class="rb" x="489.22" y="404.24" text-anchor="middle" textLength="12.02" lengthAdjust="spacingAndGlyphs">135</text>
<text class="rp" transform="translate(465.77 397.72) rotate(-90)" text-anchor="middle" y="2.94" textLength="16.52" lengthAdjust="spacingAndGlyphs">p=85</text>
<text class="rp" x="297.81" y="212.31" text-anchor="middle" textLength="20.53" lengthAdjust="spacingAndGlyphs">p=145</text>
<text class="rp" x="336.01" y="212.17" text-anchor="middle" textLength="20.53" lengthAdjust="spacingAndGlyphs">p=145</text>
<text class="rp" x="369.01" y="212.06" text-anchor="middle" textLength="20.53" lengthAdjust="spacingAndGlyphs">p=145</text>
<text class="rp" x="270.36" y="438.41" text-anchor="middle" textLength="16.52" lengthAdjust="spacingAndGlyphs">p=85</text>
<text class="rp" x="368.46" y="438.06" text-anchor="middle" textLength="16.52" lengthAdjust="spacingAndGlyphs">p=85</text>
<path class="l" d="M301.14 229.69 L293.94 229.72 L294.06 246.82 L292.82 254.72"/>
<path class="l" d="M301.14 229.69 Q310.36 232.26 312.4 252.26"/>
<line class="ld" x1="302.54" y1="229.99" x2="302.72" y2="254.29"/>
<circle class="c" cx="302.51" cy="225.49" r="4.5"/>
<text class="rn" transform="translate(297.82 240.81) rotate(-90)" text-anchor="middle" y="2.94" textLength="8.01" lengthAdjust="spacingAndGlyphs">70</text>
<text class="rn" transform="translate(308.03 241.77) rotate(-90)" text-anchor="middle" y="2.94" textLength="12.02" lengthAdjust="spacingAndGlyphs">200</text>
<path class="l" d="M333.35 230.58 L326.65 230.61 L326.76 246.71 L325.52 254.61"/>
<path class="l" d="M333.35 230.58 Q343.36 233.15 345.82 254.14"/>
<line class="ld" x1="334.95" y1="230.78" x2="335.14" y2="257.18"/>
<circle class="c" cx="334.91" cy="226.28" r="4.5"/>
<text class="rn" transform="translate(330.63 241.69) rotate(-90)" text-anchor="middle" y="2.94" textLength="8.01" lengthAdjust="spacingAndGlyphs">70</text>
<text class="rn" transform="translate(340.83 242.66) rotate(-90)" text-anchor="middle" y="2.94" textLength="12.02" lengthAdjust="spacingAndGlyphs">200</text>
<circle class="c" cx="361.9" cy="238.08" r="4.5"/>
<line class="ld" x1="366.4" y1="238.07" x2="395.4" y2="237.97"/>
<path class="l" d="M366.4 238.07 Q371.35 230.65 382.54 229.61"/>
<path class="l" d="M366.81 239.67 Q367.85 244.06 369.87 247.45"/>
<line class="tk2" x1="387.35" y1="231.59" x2="387.47" y2="247.99"/>
<text class="rn" x="377.98" y="235.63" text-anchor="middle" textLength="8.01" lengthAdjust="spacingAndGlyphs">70</text>
<text class="rn" x="374.97" y="247.04" text-anchor="middle" textLength="12.02" lengthAdjust="spacingAndGlyphs">200</text>
<circle class="c" cx="313.3" cy="266.05" r="4.5"/>
<path class="l" d="M312.03 255.26 L311.78 258.7 L311 262.06 L309.7 265.25 L307.92 268.2 L305.7 270.84 L303.09 273.09 L300.16 274.9 L296.98 276.23 L293.63 277.05 L290.19 277.33"/>
<line class="ld" x1="281.61" y1="266.76" x2="308.61" y2="266.67"/>
<text class="rn" x="297.59" y="263.61" text-anchor="middle" textLength="8.01" lengthAdjust="spacingAndGlyphs">80</text>
<text class="rn" x="297.67" y="274.91" text-anchor="middle" textLength="12.02" lengthAdjust="spacingAndGlyphs">200</text>
<circle class="c" cx="337.69" cy="290.97" r="4.5"/>
<path class="l" d="M315.2 279.75 L317.61 279.87 L320 280.25 L322.33 280.89 L324.57 281.77 L326.71 282.89 L328.72 284.24 L330.57 285.79 L332.24 287.53 L333.72 289.45 L334.98 291.51"/>
<line class="l" x1="315.2" y1="279.75" x2="315.37" y2="302.05"/>
<line class="ld" x1="315.79" y1="291.05" x2="333.19" y2="290.98"/>
<text class="rn" x="322.37" y="288.42" text-anchor="middle" textLength="8.01" lengthAdjust="spacingAndGlyphs">80</text>
<text class="rn" x="323.45" y="299.82" text-anchor="middle" textLength="12.02" lengthAdjust="spacingAndGlyphs">200</text>
<circle class="c" cx="331.34" cy="325.69" r="4.5"/>
<path class="l" d="M319.37 302.63 L319.69 306.31 L320.57 309.89 L322.01 313.29 L323.96 316.43 L326.38 319.23 L329.2 321.61 L332.36 323.53 L335.77 324.93 L339.36 325.77 L343.04 326.05"/>
<line class="l" x1="342.87" y1="302.55" x2="343.05" y2="326.95"/>
<line class="l" x1="319.37" y1="302.63" x2="319.43" y2="310.23"/>
<line class="ld" x1="331.18" y1="303.19" x2="331.31" y2="321.19"/>
<text class="rn" transform="translate(325.53 310.21) rotate(-90)" text-anchor="middle" y="2.94" textLength="8.01" lengthAdjust="spacingAndGlyphs">90</text>
<text class="rn" transform="translate(337.53 311.17) rotate(-90)" text-anchor="middle" y="2.94" textLength="12.02" lengthAdjust="spacingAndGlyphs">200</text>
<line class="lt" x1="319.43" y1="310.13" x2="342.93" y2="310.05"/>
<line class="tk2" x1="332.92" y1="309.39" x2="338.42" y2="309.37"/>
<circle class="c" cx="288.72" cy="322.74" r="4.5"/>
<path class="l" d="M289.23 311.34 L289.52 314.62 L290.31 317.82 L291.59 320.86 L293.34 323.67 L295.49 326.17 L298.01 328.3 L300.84 330.01 L303.89 331.26 L307.1 332.02 L310.39 332.26"/>
<line class="l" x1="289.94" y1="311.94" x2="310.24" y2="311.86"/>
<line class="ld" x1="293.22" y1="322.72" x2="319.02" y2="322.63"/>
<text class="rn" x="304.5" y="320.49" text-anchor="middle" textLength="8.01" lengthAdjust="spacingAndGlyphs">80</text>
<text class="rn" x="304.58" y="331.49" text-anchor="middle" textLength="12.02" lengthAdjust="spacingAndGlyphs">200</text>
<line class="lt" x1="317.93" y1="311.24" x2="318.1" y2="333.64"/>
<line class="tk2" x1="317.93" y1="311.04" x2="318.07" y2="329.74" stroke-dasharray="2.4 4.2"/>
<line class="l" x1="310.4" y1="333.66" x2="318.3" y2="333.64"/>
<circle class="c" cx="369.07" cy="329.56" r="4.5"/>
<path class="l" d="M381.23 310.02 L380.98 313.51 L380.19 316.91 L378.87 320.15 L377.06 323.14 L374.81 325.81 L372.17 328.09 L369.2 329.93 L365.97 331.28 L362.58 332.11 L359.09 332.39"/>
<line class="l" x1="358.87" y1="302.49" x2="359.09" y2="332.09"/>
<line class="l" x1="381.17" y1="302.42" x2="381.23" y2="311.02"/>
<line class="ld" x1="368.88" y1="303.06" x2="369.04" y2="325.06"/>
<text class="rn" transform="translate(363.56 315.08) rotate(-90)" text-anchor="middle" y="2.94" textLength="8.01" lengthAdjust="spacingAndGlyphs">90</text>
<text class="rn" transform="translate(374.57 315.54) rotate(-90)" text-anchor="middle" y="2.94" textLength="12.02" lengthAdjust="spacingAndGlyphs">200</text>
<line class="lt" x1="356.93" y1="310.5" x2="381.23" y2="310.42"/>
<circle class="c" cx="455.26" cy="355.56" r="4.5"/>
<path class="l" d="M453.68 343.76 L454 347.6 L454.93 351.33 L456.43 354.88 L458.46 358.15 L460.98 361.06 L463.92 363.55 L467.21 365.55 L470.77 367.01 L474.52 367.89 L478.35 368.18"/>
<line class="l" x1="453.88" y1="343.76" x2="481.68" y2="343.67"/>
<line class="ld" x1="459.76" y1="355.54" x2="486.86" y2="355.45"/>
<text class="rn" x="469.54" y="353.11" text-anchor="middle" textLength="8.01" lengthAdjust="spacingAndGlyphs">90</text>
<text class="rn" x="469.93" y="364.31" text-anchor="middle" textLength="12.02" lengthAdjust="spacingAndGlyphs">200</text>
<line class="l" x1="473.56" y1="368.69" x2="483.36" y2="368.66"/>
<line class="tk2" x1="478.58" y1="343.68" x2="478.76" y2="368.68"/>
<circle class="c" cx="370.43" cy="379.56" r="4.5"/>
<path class="l" d="M370.32 381.02 L372.52 382.33 L374.56 383.87 L376.43 385.62 L378.09 387.56 L379.54 389.67 L380.75 391.92 L381.71 394.29 L382.41 396.75 L382.84 399.26 L383 401.81"/>
<line class="ld" x1="370.47" y1="384.06" x2="370.62" y2="405.06"/>
<text class="rn" transform="translate(364.95 395.68) rotate(-90)" text-anchor="middle" y="2.94" textLength="8.01" lengthAdjust="spacingAndGlyphs">90</text>
<text class="rn" transform="translate(376.55 395.64) rotate(-90)" text-anchor="middle" y="2.94" textLength="12.02" lengthAdjust="spacingAndGlyphs">200</text>
<line class="tk2" x1="362.13" y1="405.99" x2="379.63" y2="405.92" stroke-dasharray="4.2 6.8"/>
<circle class="c" cx="332.55" cy="423.59" r="4.5"/>
<path class="l" d="M319.42 418.74 L323.41 419.01 L327.33 419.85 L331.09 421.24 L334.62 423.15 L337.84 425.54 L340.69 428.37 L343.1 431.57 L345.04 435.08 L346.45 438.83 L347.32 442.74"/>
<line class="l" x1="319.42" y1="418.64" x2="319.58" y2="441.24"/>
<line class="ld" x1="332.59" y1="428.19" x2="332.79" y2="455.49"/>
<text class="rn" transform="translate(326.56 437.81) rotate(-90)" text-anchor="middle" y="2.94" textLength="12.02" lengthAdjust="spacingAndGlyphs">100</text>
<text class="rn" transform="translate(338.86 437.77) rotate(-90)" text-anchor="middle" y="2.94" textLength="12.02" lengthAdjust="spacingAndGlyphs">205</text>
<line class="lt" x1="319.31" y1="444.24" x2="347.91" y2="444.14"/>
<line class="l" x1="319.29" y1="441.54" x2="347.89" y2="441.44"/>
<circle class="c" cx="409.93" cy="268.91" r="4.5"/>
<path class="l" d="M388.54 256.99 L392.06 257.25 L395.5 258.07 L398.77 259.41 L401.8 261.24 L404.5 263.52 L406.81 266.2 L408.68 269.2 L410.05 272.46 L410.9 275.89 L411.2 279.41"/>
<line class="ld" x1="388.63" y1="268.99" x2="405.63" y2="268.93"/>
<line class="l" x1="388.7" y1="279.49" x2="411.2" y2="279.41"/>
<text class="rn" x="395.11" y="266.57" text-anchor="middle" textLength="8.01" lengthAdjust="spacingAndGlyphs">80</text>
<text class="rn" x="396.19" y="277.56" text-anchor="middle" textLength="12.02" lengthAdjust="spacingAndGlyphs">200</text>
<line class="lt" x1="347.63" y1="255.73" x2="347.96" y2="301.63" stroke-dasharray="4 2.2"/>
<line class="lt" x1="355.33" y1="255.71" x2="355.66" y2="301.61" stroke-dasharray="4 2.2"/>
<line class="lv" x1="244.29" y1="236.27" x2="268.89" y2="236.27"/>
<line class="lv" x1="249.89" y1="230.27" x2="249.89" y2="242.27"/>
<circle class="lvc" cx="249.89" cy="236.27" r="2.3"/>
<path class="lvf" d="M249.89 236.27 L249.89 233.97 A2.3 2.3 0 0 1 252.19 236.27 Z"/>
<path class="lvf" d="M249.89 236.27 L249.89 238.57 A2.3 2.3 0 0 1 247.59 236.27 Z"/>
<text class="lvt" x="253.39" y="235.37" textLength="14.8" lengthAdjust="spacingAndGlyphs">+/-0.00</text>
<line class="lv" x1="416.84" y1="256.47" x2="441.14" y2="256.47"/>
<line class="lv" x1="422.44" y1="250.47" x2="422.44" y2="262.47"/>
<circle class="lvc" cx="422.44" cy="256.47" r="2.3"/>
<path class="lvf" d="M422.44 256.47 L422.44 254.17 A2.3 2.3 0 0 1 424.74 256.47 Z"/>
<path class="lvf" d="M422.44 256.47 L422.44 258.77 A2.3 2.3 0 0 1 420.14 256.47 Z"/>
<text class="lvt" x="425.94" y="255.57" textLength="14.5" lengthAdjust="spacingAndGlyphs">+/-0.00</text>
<line class="lv" x1="342.57" y1="288.33" x2="366.57" y2="288.33"/>
<line class="lv" x1="348.17" y1="282.33" x2="348.17" y2="294.33"/>
<circle class="lvc" cx="348.17" cy="288.33" r="2.3"/>
<path class="lvf" d="M348.17 288.33 L348.17 286.03 A2.3 2.3 0 0 1 350.47 288.33 Z"/>
<path class="lvf" d="M348.17 288.33 L348.17 290.63 A2.3 2.3 0 0 1 345.87 288.33 Z"/>
<text class="lvt" x="351.67" y="287.43" textLength="14.2" lengthAdjust="spacingAndGlyphs">+/-0.00</text>
<line class="lv" x1="256.48" y1="385.94" x2="281.78" y2="385.94"/>
<line class="lv" x1="262.08" y1="379.94" x2="262.08" y2="391.94"/>
<circle class="lvc" cx="262.08" cy="385.94" r="2.3"/>
<path class="lvf" d="M262.08 385.94 L262.08 383.64 A2.3 2.3 0 0 1 264.38 385.94 Z"/>
<path class="lvf" d="M262.08 385.94 L262.08 388.24 A2.3 2.3 0 0 1 259.78 385.94 Z"/>
<text class="lvt" x="265.58" y="385.04" textLength="15.5" lengthAdjust="spacingAndGlyphs">+/-0.00</text>
<line class="lv" x1="319.08" y1="385.52" x2="343.48" y2="385.52"/>
<line class="lv" x1="324.68" y1="379.52" x2="324.68" y2="391.52"/>
<circle class="lvc" cx="324.68" cy="385.52" r="2.3"/>
<path class="lvf" d="M324.68 385.52 L324.68 383.22 A2.3 2.3 0 0 1 326.98 385.52 Z"/>
<path class="lvf" d="M324.68 385.52 L324.68 387.82 A2.3 2.3 0 0 1 322.38 385.52 Z"/>
<text class="lvt" x="328.18" y="384.62" textLength="14.6" lengthAdjust="spacingAndGlyphs">+/-0.00</text>
<line class="lv" x1="395.37" y1="384.65" x2="419.97" y2="384.65"/>
<line class="lv" x1="400.97" y1="378.65" x2="400.97" y2="390.65"/>
<circle class="lvc" cx="400.97" cy="384.65" r="2.3"/>
<path class="lvf" d="M400.97 384.65 L400.97 382.35 A2.3 2.3 0 0 1 403.27 384.65 Z"/>
<path class="lvf" d="M400.97 384.65 L400.97 386.95 A2.3 2.3 0 0 1 398.67 384.65 Z"/>
<text class="lvt" x="404.47" y="383.75" textLength="14.8" lengthAdjust="spacingAndGlyphs">+/-0.00</text>
<text class="rt" x="196.35" y="177.06" textLength="59.3" lengthAdjust="spacingAndGlyphs">nenatkriveni prolaz</text>
<text class="rt" x="196.43" y="187.26" textLength="38.4" lengthAdjust="spacingAndGlyphs">P=13,85 m2</text>
<text class="rt" x="355.4" y="141.7" textLength="20" lengthAdjust="spacingAndGlyphs">terasa</text>
<text class="rt" x="355.47" y="152.1" textLength="34.3" lengthAdjust="spacingAndGlyphs">P=7,51 m2</text>
<text class="rt" x="244.23" y="214.49" textLength="32.9" lengthAdjust="spacingAndGlyphs">kupaonica</text>
<text class="rt" x="244.3" y="224.99" textLength="35" lengthAdjust="spacingAndGlyphs">P=4,36 m2</text>
<text class="rt" x="317.96" y="219.44" textLength="8.7" lengthAdjust="spacingAndGlyphs">wc</text>
<text class="rt" x="318.04" y="229.44" textLength="33.7" lengthAdjust="spacingAndGlyphs">P=1,63 m2</text>
<text class="rt" x="356.06" y="218.8" textLength="13.2" lengthAdjust="spacingAndGlyphs">izba</text>
<text class="rt" x="356.14" y="229.3" textLength="35" lengthAdjust="spacingAndGlyphs">P=1,81 m2</text>
<text class="rt" x="416.77" y="234.09" textLength="21.8" lengthAdjust="spacingAndGlyphs">kuhinja</text>
<text class="rt" x="416.85" y="244.89" textLength="37.6" lengthAdjust="spacingAndGlyphs">P=10,38 m2</text>
<text class="rt" x="341.41" y="266.45" textLength="35.5" lengthAdjust="spacingAndGlyphs">predprostor</text>
<text class="rt" x="341.48" y="276.95" textLength="34.2" lengthAdjust="spacingAndGlyphs">P=4,60 m2</text>
<text class="rt" x="256.91" y="363.45" textLength="15.4" lengthAdjust="spacingAndGlyphs">soba</text>
<text class="rt" x="256.99" y="374.15" textLength="38.2" lengthAdjust="spacingAndGlyphs">P=12,36 m2</text>
<text class="rt" x="319.02" y="363.94" textLength="21" lengthAdjust="spacingAndGlyphs">hodnik</text>
<text class="rt" x="319.09" y="373.94" textLength="35" lengthAdjust="spacingAndGlyphs">P=6,35 m2</text>
<text class="rt" x="395.32" y="363.17" textLength="48.2" lengthAdjust="spacingAndGlyphs">dnevni boravak</text>
<text class="rt" x="395.39" y="373.67" textLength="38.4" lengthAdjust="spacingAndGlyphs">P=17,03 m2</text>
<text class="rt" x="518.18" y="344.84" textLength="19.7" lengthAdjust="spacingAndGlyphs">terasa</text>
<text class="rt" x="518.27" y="356.14" textLength="37.8" lengthAdjust="spacingAndGlyphs">P=47,90 m2</text>
<line class="sec" x1="467.85" y1="134.51" x2="469.52" y2="500.21" stroke-dasharray="12 4.5 1 4.5"/>
<line class="sec" x1="467.85" y1="134.51" x2="470.35" y2="134.51"/>
<path class="ar" d="M470.13 131.7 L470.18 138.2 L475.45 134.98 Z"/>
<text class="sa" transform="translate(474.52 144.89) rotate(-90)" text-anchor="middle" y="2.64">A</text>
<path class="sec" d="M467.75 504.02 L467.83 515.72 L470.93 515.71"/>
<path class="ar" d="M470.91 512.71 L470.96 519.31 L475.93 515.89 Z"/>
<text class="sa" transform="translate(475.35 504.19) rotate(-90)" text-anchor="middle" y="2.64">A</text>
</g>
<g>
<circle class="cp" cx="881.4" cy="33.6" r="16"/>
<line class="cp" x1="876.2" y1="5.6" x2="886.7" y2="61.2"/>
<line class="cp" x1="856.5" y1="37.7" x2="905.3" y2="29"/>
<path class="cpf" d="M865.7 36.6 L880.4 28.6 L881.6 33.4 Z"/>
<path class="cp2" d="M865.7 36.8 L881.8 38.3 L881.4 33.8 Z"/>
<text class="cs" x="848" y="43.9" text-anchor="middle">S</text>
<g transform="translate(767.6 541.6) rotate(-10.5)" class="stp">
<text class="s1" x="0" y="0" textLength="133" lengthAdjust="spacingAndGlyphs">MINISTARSTVO ZAŠTITE OKOLIŠA I PROSTORNOG UREĐENJA</text>
<text class="s2" x="0" y="10.6" textLength="50.5" lengthAdjust="spacingAndGlyphs">Božo Marić</text>
<text class="s3" x="1.5" y="20.2" textLength="26.5" lengthAdjust="spacingAndGlyphs">ing. građ.</text>
<text class="s3" x="0" y="31.2" textLength="90.5" lengthAdjust="spacingAndGlyphs">Ovlašteni inženjer građevinarstva</text>
</g>
<g transform="translate(868.6 566.4) rotate(-9.5)" class="stp"><text class="s4" x="0" y="0" textLength="33.8" lengthAdjust="spacingAndGlyphs">G 1534</text></g>
<g transform="translate(865 530) rotate(-9)">
<path class="lg" d="M0 -3 q4.4 -2 8.8 0 t8.8 0 t8.8 0 t8.8 0"/>
<path class="lg" d="M1.2 0.3 q4.4 -2 8.8 0 t8.8 0 t8.8 0 t7.6 0"/>
<path class="lg" d="M0 3.6 q4.4 -2 8.8 0 t8.8 0 t8.8 0 t8.8 0"/>
<path class="lg" d="M1.2 6.9 q4.4 -2 8.8 0 t8.8 0 t8.8 0 t7.6 0"/>
<path class="lg" d="M0 10.2 q4.4 -2 8.8 0 t8.8 0 t8.8 0 t8.8 0"/>
<path class="lg" d="M2.7 13.5 q4.4 -2 8.8 0 t8.8 0 t8.8 0 t6.1 0"/>
<path class="lg" d="M3 16.8 q4.4 -2 8.8 0 t8.8 0 t8.8 0 t5.8 0"/>
</g>
<path class="lgf" d="M868.5 555.4 L880.5 548.0 L903 542.6 L891.5 550.6 Z"/>
<path class="lgw" d="M877.5 551.6 L894 547.2 M882 548.6 L889 550.6"/>
<path class="sg" d="M843.6 615.4 C848 603 856 585 862.4 571.5 C863.5 569 864.6 570 863.6 572.5 C858 586 851 601 846.2 612.8"/>
<path class="sg" d="M860.2 608 C863.5 596 868.5 580 872.6 567.5 C873.4 564.6 870.8 563.4 869.3 566.2 C867.8 569.2 869.6 571.6 872 569.6 C875 566.6 879 565.6 881.2 568.2 C883 571 881.6 580 880.6 588 C880 593.4 884.6 595.6 890 593.8 C897 591.4 903.5 588.4 908.6 586.2"/>
</g>
</svg>
</body></html>
